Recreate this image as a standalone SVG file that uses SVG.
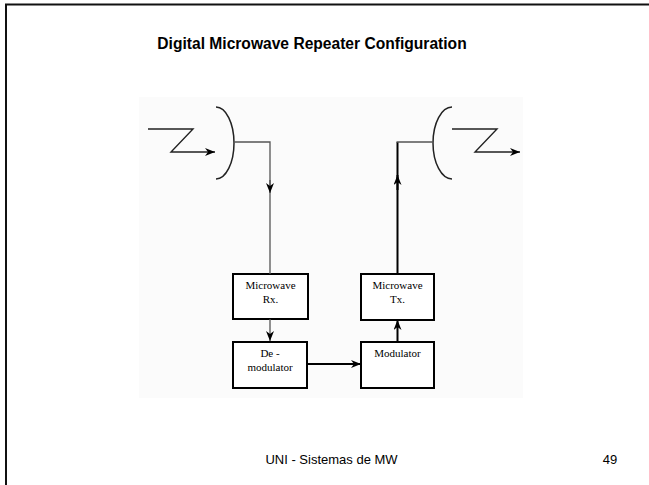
<svg xmlns="http://www.w3.org/2000/svg" width="649" height="485" viewBox="0 0 649 485">
  <defs>
    <style>
      .frame { stroke: #111; stroke-width: 2; fill: none; }
      .title { font-family: "Liberation Sans", Arial, sans-serif; font-size: 15.6px; font-weight: bold; fill: #000; text-anchor: middle; }
      .foot { font-family: "Liberation Sans", Arial, sans-serif; font-size: 13px; fill: #000; text-anchor: middle; }
      .box { fill: #fff; stroke: #000; stroke-width: 2; }
      .label { font-family: "Liberation Serif", "Times New Roman", serif; font-size: 11px; fill: #000; text-anchor: middle; }
      .dish { fill: none; stroke: #222; stroke-width: 1.5; }
      .wave { fill: none; stroke: #222; stroke-width: 1.4; }
      .thin { fill: none; stroke: #555; stroke-width: 1.3; }
      .bold { fill: none; stroke: #000; stroke-width: 2; }
    </style>
    <marker id="head" viewBox="0 0 10 8" refX="10" refY="4" markerWidth="10" markerHeight="8" markerUnits="userSpaceOnUse" orient="auto">
      <path d="M0,0 L10,4 L0,8 L3,4 Z" fill="#000"/>
    </marker>
  </defs>

  <!-- page background and slide frame (top and left edges) -->
  <rect x="0" y="0" width="649" height="485" fill="#fff"/>
  <path class="frame" d="M6,485 V4.5 H649"/>

  <text class="title" x="312" y="49">Digital Microwave Repeater Configuration</text>

  <!-- figure panel -->
  <rect x="139" y="97" width="384" height="301" fill="#fbfbfb"/>

  <!-- receive antenna -->
  <g id="rx-antenna">
    <path class="dish" d="M216,107 A18,36 0 0 1 216,179"/>
    <path class="wave" d="M148,129 H193 L171,152 H215" marker-end="url(#head)"/>
  </g>

  <!-- transmit antenna -->
  <g id="tx-antenna">
    <path class="dish" d="M452,107 A19,36 0 0 0 452,179"/>
    <path class="wave" d="M452,129 H497 L475,152 H520" marker-end="url(#head)"/>
  </g>

  <g id="microwave-rx">
    <rect class="box" x="233" y="274" width="75" height="45"/>
    <text class="label" x="270.5" y="289">Microwave</text>
    <text class="label" x="270.5" y="303">Rx.</text>
  </g>

  <g id="demodulator">
    <rect class="box" x="233" y="342" width="74" height="46"/>
    <text class="label" x="270" y="357">De -</text>
    <text class="label" x="270" y="371">modulator</text>
  </g>

  <g id="modulator">
    <rect class="box" x="361" y="342" width="73" height="46"/>
    <text class="label" x="397.5" y="357">Modulator</text>
  </g>

  <g id="microwave-tx">
    <rect class="box" x="361" y="274" width="73" height="46"/>
    <text class="label" x="397.5" y="289">Microwave</text>
    <text class="label" x="397.5" y="303">Tx.</text>
  </g>

  <g id="connectors">
    <!-- antenna feed down to receiver -->
    <path class="thin" d="M234,142 H270 V274"/>
    <path class="thin" d="M270,180 V193" marker-end="url(#head)"/>
    <!-- receiver to demodulator -->
    <path class="thin" d="M270,319 V341" marker-end="url(#head)"/>
    <!-- demodulator to modulator -->
    <path class="bold" d="M307,364 H361" marker-end="url(#head)"/>
    <!-- modulator to transmitter -->
    <path class="bold" d="M397.5,342 V320" marker-end="url(#head)"/>
    <!-- transmitter up to antenna feed -->
    <path class="bold" d="M397.5,274 V142"/>
    <path class="thin" d="M396.5,142 H433"/>
    <path class="bold" d="M397.5,190 V175" marker-end="url(#head)"/>
  </g>

  <text class="foot" x="331.5" y="464">UNI - Sistemas de MW</text>
  <text class="foot" x="610" y="464">49</text>
</svg>
